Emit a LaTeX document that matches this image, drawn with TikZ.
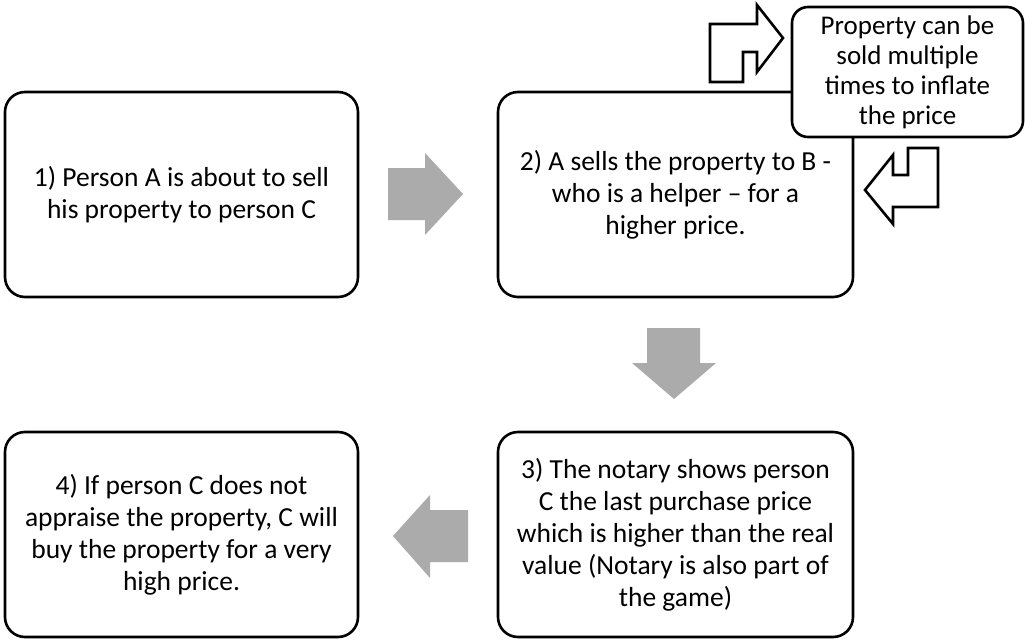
\documentclass[tikz,border=0pt]{standalone}
\usepackage{fontspec}
\setmainfont{Carlito}
\tikzset{stepbox/.style={draw=black, line width=2.6pt, rounded corners=20pt, fill=white,
    align=center, inner sep=0pt, font=\fontsize{27.5}{32}\selectfont},
  notebox/.style={stepbox, rounded corners=16pt, font=\fontsize{27}{30}\selectfont},
  grayarrow/.style={fill=black!33, draw=none},
  bentarrow/.style={draw=black, line width=2.6pt, fill=white, line join=miter}}

\begin{document}
\begin{tikzpicture}[x=1pt, y=-1pt]
\useasboundingbox (0,0) rectangle (1026,642);

\node[stepbox, minimum width=353pt, minimum height=205pt] (step1) at (181.5,194.5)
  {1) Person A is about to sell\\his property to person C};
\node[stepbox, minimum width=355pt, minimum height=205pt] (step2) at (675.5,194.5)
  {2) A sells the property to B -\\who is a helper -- for a\\higher price.};
\node[stepbox, minimum width=355pt, minimum height=205pt] (step3) at (675.5,534.5)
  {3) The notary shows person\\C the last purchase price\\which is higher than the real\\value (Notary is also part of\\the game)};
\node[stepbox, minimum width=353pt, minimum height=205pt] (step4) at (181.5,534.5)
  {4) If person C  does not\\appraise the property, C will\\buy the property for a very\\high price.};

% side note on the second step
\node[notebox, minimum width=231pt, minimum height=130pt] (note) at (907.5,72)
  {Property can be\\sold multiple\\times to inflate\\the price};

% gray block arrows between the steps
\draw[grayarrow] (388,168) -- (425,168) -- (425,153) -- (463,194) -- (425,235)
  -- (425,220) -- (388,220) -- cycle;
\draw[grayarrow] (647,328) -- (700,328) -- (700,363) -- (716,363) -- (674,399)
  -- (632,363) -- (647,363) -- cycle;
\draw[grayarrow] (468,510) -- (430,510) -- (430,495) -- (393,536) -- (430,578)
  -- (430,562) -- (468,562) -- cycle;

% bent arrows to and from the note
\draw[bentarrow] (710,82) -- (710,24) -- (757,24) -- (757,5) -- (783,38)
  -- (757,72) -- (757,52) -- (743,52) -- (743,82) -- cycle;
\draw[bentarrow] (938,148) -- (938,207) -- (893,207) -- (893,224) -- (865,190)
  -- (893,155) -- (893,175) -- (908,175) -- (908,148) -- cycle;

\end{tikzpicture}
\end{document}
